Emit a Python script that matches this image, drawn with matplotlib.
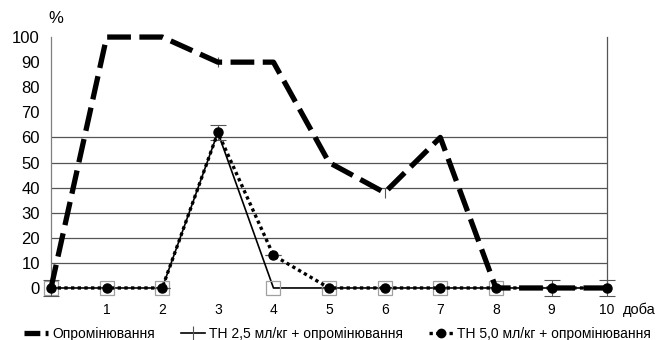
import matplotlib
matplotlib.use("Agg")
import matplotlib.pyplot as plt
from matplotlib.lines import Line2D

plt.rcParams["font.family"] = ["Liberation Sans", "DejaVu Sans"]

# дані
days = [0, 1, 2, 3, 4, 5, 6, 7, 8, 9, 10]
x_labels = ["", "1", "2", "3", "4", "5", "6", "7", "8", "9", "10"]
irrad = [0, 100, 100, 90, 90, 50, 38, 60, 0, 0, 0]
irrad_err = [0, 0, 0, 2, 0, 0, 2, 0, 0, 0, 0]
th25 = [0, 0, 0, 62, 0, 0, 0, 0, 0, 0, 0]
th50 = [0, 0, 0, 62, 13, 0, 0, 0, 0, 0, 0]
th50_err = [3, 0, 0, 3, 0, 0, 0, 0, 0, 3, 3]
y_ticks = [0, 10, 20, 30, 40, 50, 60, 70, 80, 90, 100]
grid_levels = [10, 20, 30, 40, 50, 60]

labels = ["Опромінювання", "ТН 2,5 мл/кг + опромінювання",
          "ТН 5,0 мл/кг + опромінювання"]

GRAY = "#7f7f7f"

fig = plt.figure(figsize=(6.66, 3.4), dpi=100)
ax = fig.add_axes([0.0766, 0.153, 0.835, 0.738])

for g in grid_levels:
    ax.axhline(g, color="#555555", lw=0.9, zorder=1)

# ТН 2,5 — тонка суцільна з квадратами
ax.plot(days, th25, color="black", lw=1.2, marker="s", markersize=10.5,
        markerfacecolor="none", markeredgecolor="#a0a0a0", markeredgewidth=0.9,
        markevery=[0, 1, 2, 4, 5, 6, 7, 8], clip_on=False, zorder=3)

# ТН 5,0 — пунктир з кружками
ax.errorbar(days, th50, yerr=th50_err, color="black", lw=2.4,
            dashes=(1, 1), marker="o", markersize=6.5, ecolor="#555555",
            elinewidth=0.8, capsize=6, capthick=0.8, clip_on=False, zorder=4)

# Опромінювання — жирна штрихова
ax.errorbar(days, irrad, yerr=irrad_err, color="black", lw=3.8,
            dashes=(4.5, 1.6), ecolor="#555555", elinewidth=0.8, capsize=0,
            clip_on=False, zorder=5)

ax.set_xlim(0, 10)
ax.set_ylim(0, 100)
ax.set_xticks(days)
ax.set_xticklabels(x_labels, fontsize=10)
ax.set_yticks(y_ticks)
ax.set_yticklabels([str(v) for v in y_ticks], fontsize=12)
ax.tick_params(axis="both", length=0)
ax.tick_params(axis="x", pad=11)
ax.tick_params(axis="y", pad=8)

for side in ["top", "bottom"]:
    ax.spines[side].set_visible(False)
ax.spines["left"].set_color(GRAY)
ax.spines["left"].set_linewidth(0.9)
ax.spines["right"].set_color("#555555")
ax.spines["right"].set_linewidth(0.9)

fig.text(0.072, 0.945, "%", fontsize=12, ha="left", va="center")
fig.text(0.935, 0.09, "доба", fontsize=10.5, ha="left", va="center")

handles = [
    Line2D([], [], color="black", lw=3.8, dashes=(3, 1)),
    Line2D([], [], color="black", lw=1.2, marker="|", markersize=10,
           markeredgecolor="#555555", markeredgewidth=0.8),
    Line2D([], [], color="black", lw=2.4, dashes=(1, 1), marker="o",
           markersize=6),
]
fig.legend(handles, labels, loc="lower left", bbox_to_anchor=(0.03, -0.015),
           ncol=3, frameon=False, fontsize=10, handlelength=1.7,
           handletextpad=0.3, columnspacing=1.9, borderaxespad=0,
           borderpad=0.3)

fig.savefig("out.png", dpi=100)
